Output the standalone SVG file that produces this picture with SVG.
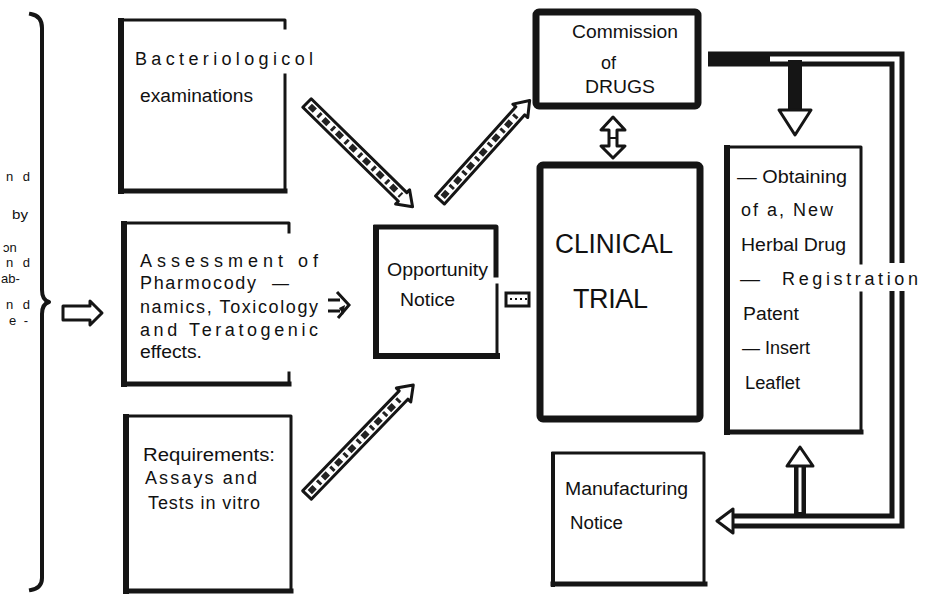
<svg xmlns="http://www.w3.org/2000/svg" width="928" height="599" viewBox="0 0 928 599">
<style>
text{font-family:"Liberation Sans",Arial,sans-serif;fill:#111;}
.t{font-size:18px;}
.sp{font-size:13px;}
.big{font-size:27px;}
.bx{fill:none;stroke:#151515;stroke-linecap:square;stroke-linejoin:round;}
.hatch{fill:#fff;stroke:#151515;stroke-width:3;stroke-linejoin:round;}
.hin{stroke:#222;stroke-width:6;stroke-dasharray:7 5 3 4;fill:none;}
.hollow{fill:#fff;stroke:#151515;stroke-width:3;stroke-linejoin:round;}
.band{fill:none;stroke:#151515;stroke-width:15;stroke-linejoin:miter;}
.bandin{fill:none;stroke:#fff;stroke-width:5;stroke-linejoin:miter;}
</style>
<rect width="928" height="599" fill="#fff"/>

<g id="brace">
<path class="bx" stroke-width="4" d="M31,14 Q42,16 42,28 V290 Q42,300 49,302 Q42,304 42,314 V578 Q42,588 31,590"/>
</g>

<g id="left-fragments">
<text class="sp" x="6" y="181" textLength="24" lengthAdjust="spacing">n d</text>
<text class="sp" x="12" y="219" textLength="16" lengthAdjust="spacingAndGlyphs">by</text>
<text class="sp" x="3" y="252">ɔn</text>
<text class="sp" x="6" y="267" textLength="24" lengthAdjust="spacing">n d</text>
<text class="sp" x="1" y="283">ab-</text>
<text class="sp" x="6" y="309" textLength="24" lengthAdjust="spacing">n d</text>
<text class="sp" x="9" y="325" textLength="19" lengthAdjust="spacing">e -</text>
</g>

<g id="bacteriological">
<path class="bx" stroke-width="6" d="M121,21 V191"/>
<path class="bx" stroke-width="3" d="M121,20 H285 V28"/>
<path class="bx" stroke-width="3" d="M285,75 V191"/>
<path class="bx" stroke-width="5" d="M121,191 H285"/>
<text class="t" x="135" y="65" textLength="178" lengthAdjust="spacing">Bacteriologicol</text>
<text class="t" x="140" y="102" textLength="113" lengthAdjust="spacingAndGlyphs">examinations</text>
</g>

<g id="assessment">
<path class="bx" stroke-width="6" d="M124,224 V384"/>
<path class="bx" stroke-width="3" d="M124,223 H289 V232"/>
<path class="bx" stroke-width="3" d="M289,373 V384"/>
<path class="bx" stroke-width="5" d="M124,384 H289"/>
<text class="t" x="140" y="267" textLength="178" lengthAdjust="spacing">Assessment of</text>
<text class="t" x="140" y="289" textLength="116" lengthAdjust="spacing">Pharmocody</text>
<text class="t" x="272" y="289" textLength="17" lengthAdjust="spacingAndGlyphs">—</text>
<text class="t" x="140" y="313" textLength="178" lengthAdjust="spacing">namics, Toxicology</text>
<text class="t" x="140" y="336" textLength="178" lengthAdjust="spacing">and Teratogenic</text>
<text class="t" x="140" y="358" textLength="62" lengthAdjust="spacingAndGlyphs">effects.</text>
</g>

<g id="requirements">
<path class="bx" stroke-width="6" d="M126,417 V591"/>
<path class="bx" stroke-width="3" d="M126,416 H291 V591"/>
<path class="bx" stroke-width="5" d="M126,591 H291"/>
<text class="t" x="143" y="461" textLength="132" lengthAdjust="spacingAndGlyphs">Requirements:</text>
<text class="t" x="145" y="484" textLength="112" lengthAdjust="spacing">Assays  and</text>
<text class="t" x="148" y="509" textLength="112" lengthAdjust="spacing">Tests in vitro</text>
</g>

<g id="opportunity">
<path class="bx" stroke-width="6" d="M376,228 V356"/>
<path class="bx" stroke-width="5" d="M376,227 H496 V275"/>
<path class="bx" stroke-width="3" d="M497,285 V356"/>
<path class="bx" stroke-width="6" d="M376,356 H497"/>
<text class="t" x="387" y="276" textLength="101" lengthAdjust="spacingAndGlyphs">Opportunity</text>
<text class="t" x="400" y="306" textLength="55" lengthAdjust="spacingAndGlyphs">Notice</text>
</g>

<g id="commission">
<rect class="bx" stroke-width="7" x="536" y="12" width="162" height="94" rx="3"/>
<text class="t" x="572" y="38" textLength="106" lengthAdjust="spacingAndGlyphs">Commission</text>
<text class="t" x="601" y="69">of</text>
<text class="t" x="585" y="93" textLength="70" lengthAdjust="spacingAndGlyphs">DRUGS</text>
</g>

<g id="clinical">
<rect class="bx" stroke-width="7" x="540" y="165" width="160" height="254" rx="3"/>
<text class="big" x="555" y="253" textLength="118" lengthAdjust="spacingAndGlyphs">CLINICAL</text>
<text class="big" x="573" y="308" textLength="75" lengthAdjust="spacing">TRIAL</text>
</g>

<g id="obtaining">
<path class="bx" stroke-width="6" d="M727,148 V432"/>
<path class="bx" stroke-width="3" d="M727,147 H861 V263"/>
<path class="bx" stroke-width="3" d="M861,293 V432"/>
<path class="bx" stroke-width="5" d="M727,432 H861"/>
<text class="t" x="737" y="183" textLength="110" lengthAdjust="spacingAndGlyphs">— Obtaining</text>
<text class="t" x="741" y="216" textLength="92" lengthAdjust="spacing">of  a, New</text>
<text class="t" x="741" y="251" textLength="105" lengthAdjust="spacingAndGlyphs">Herbal Drug</text>
<text class="t" x="740" y="285" textLength="20" lengthAdjust="spacingAndGlyphs">—</text>
<text class="t" x="782" y="285" textLength="136" lengthAdjust="spacing">Registration</text>
<text class="t" x="743" y="320" textLength="56" lengthAdjust="spacingAndGlyphs">Patent</text>
<text class="t" x="742" y="354" textLength="68" lengthAdjust="spacingAndGlyphs">— Insert</text>
<text class="t" x="745" y="389" textLength="55" lengthAdjust="spacingAndGlyphs">Leaflet</text>
</g>

<g id="manufacturing">
<path class="bx" stroke-width="4" d="M553,454 V585"/>
<path class="bx" stroke-width="3" d="M553,453 H704 V584"/>
<path class="bx" stroke-width="5" d="M553,584 H705"/>
<text class="t" x="565" y="495" textLength="123" lengthAdjust="spacingAndGlyphs">Manufacturing</text>
<text class="t" x="570" y="529" textLength="53" lengthAdjust="spacingAndGlyphs">Notice</text>
</g>

<g id="connectors">
<!-- brace to assessment -->
<polygon class="hollow" points="63,306 90,306 90,301 102,313 90,325 90,320 63,320"/>
<!-- assessment to opportunity -->
<path fill="none" stroke="#151515" stroke-width="3" d="M328,300 H340 M337,292 L349,305 L338,318 M328,311 H340"/>
<path fill="#151515" d="M339,308 l6,-3 l-2,10 z"/>
<!-- opportunity to clinical -->
<rect fill="#fff" stroke="#151515" stroke-width="3" x="506" y="293" width="23" height="13"/>
<path stroke="#151515" stroke-width="2" stroke-dasharray="2 3" d="M510,299 H527"/>
<!-- bacteriological to opportunity -->
<g transform="translate(307,103) rotate(44.5)">
<polygon class="hatch" points="0,-6 134,-6 134,-10 148,0 134,10 134,6 0,6"/>
<path class="hin" d="M4,0 H132"/>
</g>
<!-- opportunity to commission -->
<g transform="translate(440,200) rotate(-48)">
<polygon class="hatch" points="0,-6 120,-6 120,-10 134,0 120,10 120,6 0,6"/>
<path class="hin" d="M4,0 H118"/>
</g>
<!-- requirements to opportunity -->
<g transform="translate(307,495) rotate(-46)">
<polygon class="hatch" points="0,-6 139,-6 139,-10 153,0 139,10 139,6 0,6"/>
<path class="hin" d="M4,0 H137"/>
</g>
<!-- commission <-> clinical -->
<polygon class="hollow" points="613,117 601,130 609,130 609,146 601,146 613,158 625,146 617,146 617,130 625,130"/>
<path stroke="#151515" stroke-width="2" d="M609,138 H617"/>
<!-- loop from commission around to manufacturing (broken where the Registration text crosses) -->
<path class="band" d="M708,59 H897 V263"/>
<path class="bandin" d="M770,59 H897 V263"/>
<path class="band" d="M897,291 V521 H731"/>
<path class="bandin" d="M897,291 V521 H733"/>
<polygon class="hollow" points="717,521 733,509 733,533"/>
<!-- down arrow into obtaining -->
<rect x="788" y="60" width="14" height="50" fill="#151515"/>
<polygon class="hollow" points="779,110 811,110 795,135"/>
<!-- up arrow from loop into obtaining -->
<path fill="none" stroke="#151515" stroke-width="12" d="M800,514 V466"/>
<path fill="none" stroke="#fff" stroke-width="3" d="M800,512 V466"/>
<polygon class="hollow" points="800,447 787,466 813,466"/>
</g>
</svg>
